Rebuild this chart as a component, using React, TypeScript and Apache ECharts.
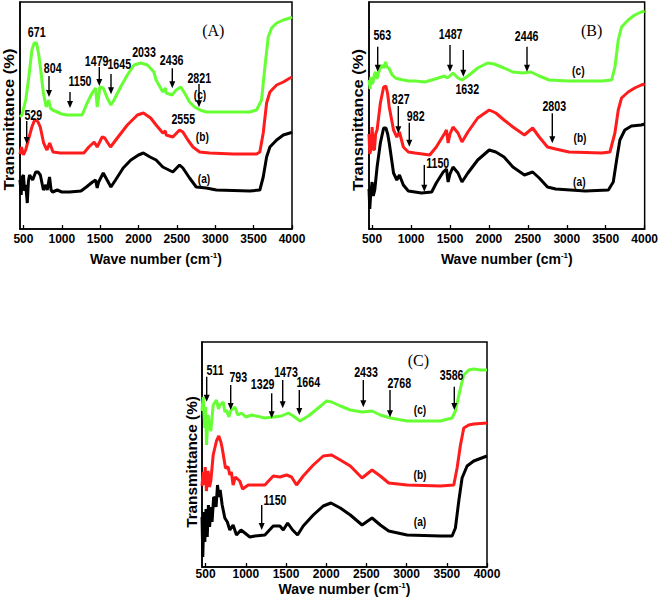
import React, { useEffect, useRef } from "react";
import * as echarts from "echarts";

// ---------- data (wavenumber cm-1, transmittance in arbitrary units) ----------
const A_a: [number, number][] = [
  [455, 49], [470, 34], [485, 52], [500, 54], [515, 38], [530, 44], [550, 26], [565, 48], [580, 54], [620, 49],
  [660, 57], [690, 57], [720, 54], [760, 39], [790, 44], [810, 39], [840, 52], [860, 39], [880, 37], [940, 39],
  [1000, 37], [1100, 37], [1250, 38], [1320, 42], [1400, 47], [1440, 49], [1461, 41], [1480, 47], [1540, 56],
  [1590, 49], [1640, 42], [1700, 49], [1800, 61], [1900, 69], [2000, 74], [2063, 76], [2150, 72], [2229, 69],
  [2316, 62], [2447, 57], [2534, 64], [2578, 61], [2665, 51], [2752, 42], [2883, 41], [3014, 39], [3450, 38],
  [3581, 39], [3625, 52], [3669, 72], [3712, 82], [3800, 89], [3887, 94], [3974, 96], [4000, 97],
];
const A_b: [number, number][] = [
  [455, 75], [475, 82], [500, 74], [529, 79], [560, 88], [610, 102], [640, 108], [666, 109], [690, 107], [719, 102],
  [763, 86], [806, 79], [842, 86], [885, 77], [980, 76], [1100, 76], [1287, 76], [1352, 82], [1422, 87], [1461, 82],
  [1480, 85], [1526, 92], [1560, 91], [1592, 87], [1635, 82], [1723, 91], [1854, 104], [1985, 114], [2063, 116],
  [2158, 111], [2229, 104], [2316, 96], [2350, 98], [2360, 94], [2447, 92], [2534, 99], [2578, 97], [2643, 89],
  [2709, 82], [2796, 77], [2927, 76], [3232, 75], [3538, 75], [3581, 77], [3625, 96], [3669, 126], [3712, 137],
  [3800, 144], [3887, 147], [3974, 151], [4000, 152],
];
const A_c: [number, number][] = [
  [455, 112], [480, 114], [530, 129], [570, 152], [610, 179], [640, 186], [671, 186], [700, 174], [720, 162],
  [760, 136], [797, 122], [810, 125], [830, 129], [850, 121], [880, 119], [940, 117], [1000, 115], [1070, 114],
  [1150, 114], [1265, 114], [1330, 126], [1395, 136], [1440, 141], [1461, 122], [1475, 129], [1496, 142], [1540, 141],
  [1592, 131], [1640, 124], [1680, 129], [1766, 142], [1854, 154], [1941, 164], [2028, 166], [2115, 164], [2200, 157],
  [2229, 149], [2316, 137], [2350, 141], [2360, 136], [2436, 134], [2491, 139], [2550, 142], [2600, 136], [2665, 127],
  [2730, 122], [2800, 119], [2883, 117], [3014, 117], [3232, 117], [3450, 117], [3538, 119], [3603, 129], [3647, 162],
  [3690, 192], [3734, 201], [3800, 206], [3887, 209], [3974, 211], [4000, 212],
];

const B_a: [number, number][] = [
  [460, 40], [470, 20], [483, 36], [500, 47], [515, 33], [534, 39], [564, 62], [606, 86], [648, 101], [677, 101],
  [700, 95], [720, 86], [775, 56], [817, 49], [851, 54], [901, 44], [965, 38], [1134, 36], [1265, 37], [1324, 46],
  [1413, 57], [1455, 60], [1476, 47], [1500, 55], [1539, 62], [1603, 56], [1654, 47], [1730, 56], [1856, 69],
  [2004, 79], [2089, 77], [2194, 72], [2308, 62], [2456, 54], [2562, 57], [2646, 51], [2752, 42], [2857, 40],
  [3238, 38], [3534, 39], [3597, 47], [3640, 69], [3682, 89], [3745, 99], [3830, 103], [3956, 104], [4000, 105],
];
const B_b: [number, number][] = [
  [460, 95], [470, 75], [483, 79], [500, 102], [515, 80], [530, 79], [545, 95], [564, 99], [606, 126], [648, 142],
  [677, 143], [700, 135], [720, 122], [775, 99], [817, 92], [851, 97], [901, 82], [965, 77], [1050, 76], [1240, 74],
  [1324, 82], [1434, 96], [1455, 99], [1476, 86], [1500, 95], [1539, 102], [1603, 96], [1654, 87], [1730, 97],
  [1856, 111], [2004, 119], [2089, 116], [2194, 109], [2308, 102], [2456, 94], [2562, 101], [2646, 92], [2752, 82],
  [2857, 80], [3027, 77], [3449, 76], [3554, 77], [3618, 96], [3661, 119], [3703, 131], [3788, 137], [3872, 141],
  [3956, 144], [4000, 145],
];
const B_c: [number, number][] = [
  [460, 149], [475, 140], [483, 152], [500, 145], [513, 147], [530, 155], [547, 157], [563, 150], [581, 156],
  [600, 160], [623, 164], [650, 161], [673, 167], [690, 162], [715, 161], [758, 154], [800, 151], [842, 150],
  [900, 149], [969, 148], [1050, 148], [1180, 147], [1307, 150], [1434, 153], [1460, 151], [1484, 152], [1539, 156],
  [1603, 151], [1654, 149], [1730, 153], [1856, 161], [1983, 166], [2068, 165], [2194, 161], [2308, 157], [2435, 156],
  [2540, 157], [2646, 153], [2773, 149], [3027, 148], [3449, 148], [3576, 149], [3618, 162], [3661, 189], [3703, 202],
  [3788, 209], [3872, 214], [3956, 217], [4000, 218],
];

const C_a: [number, number][] = [
  [455, 50], [465, 10], [478, 55], [490, 25], [505, 58], [520, 30], [535, 62], [550, 40], [565, 60], [580, 45],
  [600, 70], [614, 69], [630, 60], [648, 82], [665, 70], [681, 77], [706, 62], [739, 49], [770, 45], [801, 37],
  [842, 42], [884, 32], [940, 37], [988, 34], [1050, 30], [1113, 31], [1237, 32], [1341, 41], [1424, 41], [1466, 37],
  [1520, 44], [1582, 37], [1644, 32], [1714, 41], [1839, 52], [1963, 61], [2059, 64], [2175, 59], [2300, 52],
  [2446, 42], [2570, 49], [2673, 42], [2777, 36], [3006, 32], [3421, 31], [3566, 31], [3607, 39], [3649, 66],
  [3690, 89], [3752, 101], [3835, 106], [4000, 111],
];
const C_b: [number, number][] = [
  [455, 81], [470, 95], [482, 82], [495, 100], [510, 76], [531, 96], [548, 80], [565, 86], [594, 112], [635, 126],
  [664, 131], [690, 125], [706, 119], [747, 99], [780, 100], [801, 92], [820, 95], [842, 82], [870, 90], [925, 86],
  [960, 78], [1030, 82], [1237, 82], [1341, 91], [1424, 90], [1507, 92], [1569, 90], [1631, 82], [1714, 91],
  [1839, 102], [1963, 111], [2067, 112], [2175, 107], [2300, 101], [2446, 89], [2570, 97], [2673, 91], [2777, 84],
  [3006, 82], [3421, 81], [3587, 82], [3628, 99], [3670, 122], [3711, 139], [3773, 142], [3835, 143], [4000, 144],
];
const C_c: [number, number][] = [
  [455, 156], [470, 170], [490, 139], [500, 160], [511, 122], [531, 152], [548, 140], [565, 136], [594, 162],
  [635, 167], [660, 158], [677, 162], [718, 165], [740, 155], [759, 157], [790, 150], [809, 156], [864, 160],
  [900, 152], [946, 154], [1000, 150], [1071, 152], [1237, 149], [1341, 150], [1444, 151], [1528, 154], [1590, 151],
  [1673, 146], [1777, 151], [1901, 159], [2005, 166], [2067, 165], [2175, 161], [2300, 157], [2446, 155], [2570, 156],
  [2673, 152], [2798, 149], [3006, 146], [3421, 146], [3566, 149], [3607, 156], [3670, 179], [3711, 192], [3773, 197],
  [3835, 198], [3919, 197], [4000, 197],
];

const seriesNames = ["(a)", "(b)", "(c)"];
const panelTitles = ["(A)", "(B)", "(C)"];
const xName = "Wave number (cm{sup|-1})";
const yName = "Transmittance (%)";

// ---------- layout / styling ----------
const COLORS = ["#000000", "#ff1c1c", "#66ff33"];
const SANS = "'Liberation Sans', Arial, sans-serif";
const SERIF = "'Liberation Serif', 'Times New Roman', serif";

const grids = [
  { left: 20, top: 2, width: 272, height: 227, xmin: 455, ymax: 227, gap: 22, margin: 4 },
  { left: 369, top: 2, width: 280, height: 227, xmin: 460, ymax: 227, gap: 22, margin: 4 },
  { left: 202, top: 342, width: 285, height: 225, xmin: 455, ymax: 225, gap: 14, margin: 1 },
];

// annotation layout (pixels): label centre, optional arrow [x, yTop, yTip]
type Ann = { t: string; x: number; y: number; a?: [number, number, number] };
const annA: Ann[] = [
  { t: "671", x: 36.7, y: 32.3 },
  { t: "804", x: 52.7, y: 68.3, a: [49, 76, 97] },
  { t: "1150", x: 80, y: 81.7, a: [70, 92, 108] },
  { t: "1479", x: 96.7, y: 61.7, a: [99.3, 67, 86] },
  { t: "1645", x: 119.3, y: 64.3, a: [111, 74, 94.3] },
  { t: "2033", x: 144, y: 52.3 },
  { t: "2436", x: 171.7, y: 60.7, a: [172.3, 68.3, 88.3] },
  { t: "2821", x: 199.3, y: 78.3, a: [199, 84, 107.3] },
  { t: "529", x: 33.3, y: 115.7, a: [26.7, 121, 144] },
  { t: "2555", x: 183.3, y: 119.3 },
];
const annB: Ann[] = [
  { t: "563", x: 382.3, y: 35.7, a: [377.7, 46.7, 71.7] },
  { t: "1487", x: 450.7, y: 34, a: [450, 45, 71.7] },
  { t: "", x: 0, y: 0, a: [463.3, 50, 76.7] },
  { t: "1632", x: 467.3, y: 89.3 },
  { t: "2446", x: 526.7, y: 36.7, a: [527, 46.7, 71.7] },
  { t: "827", x: 400.7, y: 99.3, a: [398.3, 106, 133.3] },
  { t: "982", x: 415.7, y: 116, a: [409.3, 122.7, 146.7] },
  { t: "2803", x: 554.3, y: 106.7, a: [552.3, 113.3, 143.3] },
  { t: "1150", x: 437.7, y: 163.3, a: [424.3, 165, 191.7] },
];
const annC: Ann[] = [
  { t: "511", x: 215, y: 370, a: [206.7, 376.7, 401.7] },
  { t: "793", x: 238.3, y: 377.3, a: [230.7, 385, 410] },
  { t: "1329", x: 262.7, y: 384, a: [271.7, 393.3, 418.3] },
  { t: "1473", x: 286, y: 372.3, a: [282.7, 380, 408.3] },
  { t: "1664", x: 308.3, y: 382.7, a: [299.3, 390, 415] },
  { t: "2433", x: 366, y: 372.3, a: [363.3, 380, 407.3] },
  { t: "2768", x: 399.3, y: 383.3, a: [390, 390, 417.3] },
  { t: "3586", x: 451.7, y: 375.7, a: [454.3, 386.7, 410] },
  { t: "1150", x: 275, y: 500, a: [261.7, 505, 530] },
];
const curveLabelPos = [
  [[204, 179], [202.3, 136.7], [200, 94.3]],
  [[579.3, 181.7], [580, 137.7], [578.3, 71]],
  [[420, 521.7], [420, 474.3], [420, 409.3]],
];
const titlePos = [[213.3, 30], [591.7, 30], [418.3, 360]];
const yNamePos = [[8.5, 119.5, 1.1], [358, 120, 1.1], [192, 462, 1.02]];

function text(t: string, x: number, y: number, size: number, family = SANS, weight: any = "bold", extra: any = {}) {
  return {
    type: "text",
    x,
    y,
    z: 100,
    ...extra,
    style: { text: t, fill: "#000", fontSize: size, fontWeight: weight, fontFamily: family, align: "center", verticalAlign: "middle" },
  };
}

function arrow(x: number, y1: number, y2: number) {
  return [
    { type: "line", z: 100, shape: { x1: x, y1, x2: x, y2: y2 - 5 }, style: { stroke: "#000", lineWidth: 1.4 } },
    {
      type: "polygon",
      z: 100,
      shape: { points: [[x - 3, y2 - 7], [x + 3, y2 - 7], [x, y2]] },
      style: { fill: "#000" },
    },
  ];
}

export default function App() {
  const ref = useRef<HTMLDivElement>(null);
  useEffect(() => {
    if (!ref.current) return;
    const chart = echarts.init(ref.current, undefined, { renderer: "svg" });
    const panels = [
      [A_a, A_b, A_c],
      [B_a, B_b, B_c],
      [C_a, C_b, C_c],
    ];
    const series: any[] = [];
    panels.forEach((p, gi) => {
      p.forEach((d, si) => {
        series.push({
          type: "line",
          name: seriesNames[si],
          xAxisIndex: gi,
          yAxisIndex: gi,
          data: d,
          showSymbol: false,
          symbol: "none",
          lineStyle: { color: COLORS[si], width: 3 },
          z: 3 + si,
        });
      });
    });

    const graphic: any[] = [];
    [annA, annB, annC].forEach((list) => {
      list.forEach((an) => {
        if (an.t) graphic.push(text(an.t, an.x, an.y, 13, SANS, "bold", { scaleX: 0.82, scaleY: 1.08 }));
        if (an.a) graphic.push(...arrow(an.a[0], an.a[1], an.a[2]));
      });
    });
    curveLabelPos.forEach((pp) =>
      pp.forEach((pos, si) =>
        graphic.push(text(seriesNames[si], pos[0], pos[1], 12, SANS, "bold", { scaleX: 0.85, scaleY: 1.05 }))
      )
    );
    titlePos.forEach((pos, gi) => graphic.push(text(panelTitles[gi], pos[0], pos[1], 16, SERIF, "normal")));
    yNamePos.forEach((pos) =>
      graphic.push(text(yName, pos[0], pos[1], 15, SANS, "bold", { rotation: Math.PI / 2, scaleX: pos[2] }))
    );

    chart.setOption({
      animation: false,
      backgroundColor: "#ffffff",
      grid: grids.map((g) => ({
        left: g.left,
        top: g.top,
        width: g.width,
        height: g.height,
        show: true,
        borderColor: "#000",
        borderWidth: 1.5,
        containLabel: false,
      })),
      xAxis: grids.map((g, i) => ({
        type: "value",
        gridIndex: i,
        min: g.xmin,
        max: 4000,
        splitNumber: 7,
        axisLine: { show: true, lineStyle: { color: "#000", width: 1.5 } },
        axisTick: { show: true, inside: true, length: 4, lineStyle: { color: "#000", width: 1.3 } },
        splitLine: { show: false },
        axisLabel: {
          showMinLabel: false,
          margin: g.margin,
          color: "#000",
          fontSize: 12,
          fontWeight: "bold",
          fontFamily: SANS,
          formatter: (v: number) => (v % 500 === 0 ? String(v) : ""),
        },
        name: xName,
        nameLocation: "middle",
        nameGap: g.gap,
        nameTextStyle: {
          color: "#000",
          fontSize: 14,
          fontWeight: "bold",
          fontFamily: SANS,
          rich: {
            sup: { fontSize: 8, fontWeight: "bold", fontFamily: SANS, color: "#000", padding: [0, 0, 8, 0] },
          },
        },
      })),
      yAxis: grids.map((g, i) => ({
        type: "value",
        gridIndex: i,
        min: 0,
        max: g.ymax,
        axisLine: { show: true, lineStyle: { color: "#000", width: 1.5 } },
        axisTick: { show: false },
        axisLabel: { show: false },
        splitLine: { show: false },
      })),
      series,
      graphic,
    });
    return () => chart.dispose();
  }, []);
  return (
    <div
      ref={ref}
      style={{ position: "fixed", left: 0, top: 0, width: 661, height: 602, background: "#fff" }}
    />
  );
}
